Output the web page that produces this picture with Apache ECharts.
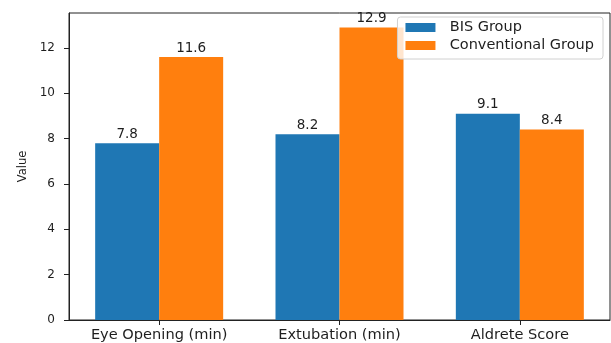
<!DOCTYPE html>
<html>
<head>
<meta charset="utf-8">
<script src="https://cdn.jsdelivr.net/npm/echarts@6/dist/echarts.min.js"></script>
<style>
  html, body { margin: 0; padding: 0; background: #fff; }
  #chart { width: 611px; height: 343px; }
</style>
</head>
<body>
<div id="chart"></div>
<script>
// data
var categories = ['Eye Opening (min)', 'Extubation (min)', 'Aldrete Score'];
var bisValues = [7.8, 8.2, 9.1];
var convValues = [11.6, 12.9, 8.4];
var yTicks = [0, 2, 4, 6, 8, 10, 12];

var chart = echarts.init(document.getElementById('chart'));

var labelStyle = {
    show: true,
    position: 'top',
    distance: 2,
    fontFamily: 'DejaVu Sans',
    fontSize: 13.5,
    color: '#1e1e1e',
    formatter: function (p) { return p.value.toFixed(1); }
};

var option = {
    animation: false,
    grid: {
        left: 69, right: 1, top: 13, bottom: 22,
        show: true, borderColor: '#222', borderWidth: 1,
        backgroundColor: 'transparent'
    },
    legend: {
        orient: 'vertical',
        right: 8,
        top: 17,
        padding: [3, 9, 6, 8],
        itemWidth: 30,
        itemHeight: 9,
        itemGap: 3,
        borderColor: '#d0d0d0',
        borderWidth: 1,
        borderRadius: 3,
        backgroundColor: 'rgba(255,255,255,0.8)',
        icon: 'rect',
        formatter: function (name) { return '  ' + name; },
        textStyle: {
            fontFamily: 'DejaVu Sans',
            fontSize: 14.5,
            color: '#1e1e1e'
        },
        data: ['BIS Group', 'Conventional Group']
    },
    xAxis: {
        type: 'category',
        data: categories,
        axisLine: { lineStyle: { color: '#222', width: 1 } },
        axisTick: { show: true, alignWithLabel: true, length: 5, lineStyle: { color: '#222' } },
        axisLabel: {
            margin: 8,
            fontFamily: 'DejaVu Sans',
            fontSize: 14.6,
            color: '#1e1e1e'
        }
    },
    yAxis: {
        type: 'value',
        min: 0,
        max: 12.9 * 1.05,
        interval: 2,
        name: 'Value',
        nameLocation: 'middle',
        nameGap: 39,
        nameTextStyle: { fontFamily: 'DejaVu Sans', fontSize: 11.5, color: '#1e1e1e' },
        axisLine: { show: true, lineStyle: { color: '#222', width: 1 } },
        axisTick: { show: true, length: 5, lineStyle: { color: '#222' } },
        splitLine: { show: false },
        axisLabel: {
            margin: 14,
            fontFamily: 'DejaVu Sans',
            fontSize: 12,
            color: '#1e1e1e',
            showMaxLabel: false,
            formatter: function (v) { return yTicks.indexOf(v) >= 0 ? String(v) : ''; }
        }
    },
    series: [
        {
            name: 'BIS Group',
            type: 'bar',
            barWidth: 64,
            barGap: '0%',
            itemStyle: { color: '#1f77b4' },
            label: labelStyle,
            data: bisValues
        },
        {
            name: 'Conventional Group',
            type: 'bar',
            barWidth: 64,
            barGap: '0%',
            itemStyle: { color: '#ff7f0e' },
            label: labelStyle,
            data: convValues
        }
    ]
};

chart.setOption(option);
</script>
</body>
</html>
